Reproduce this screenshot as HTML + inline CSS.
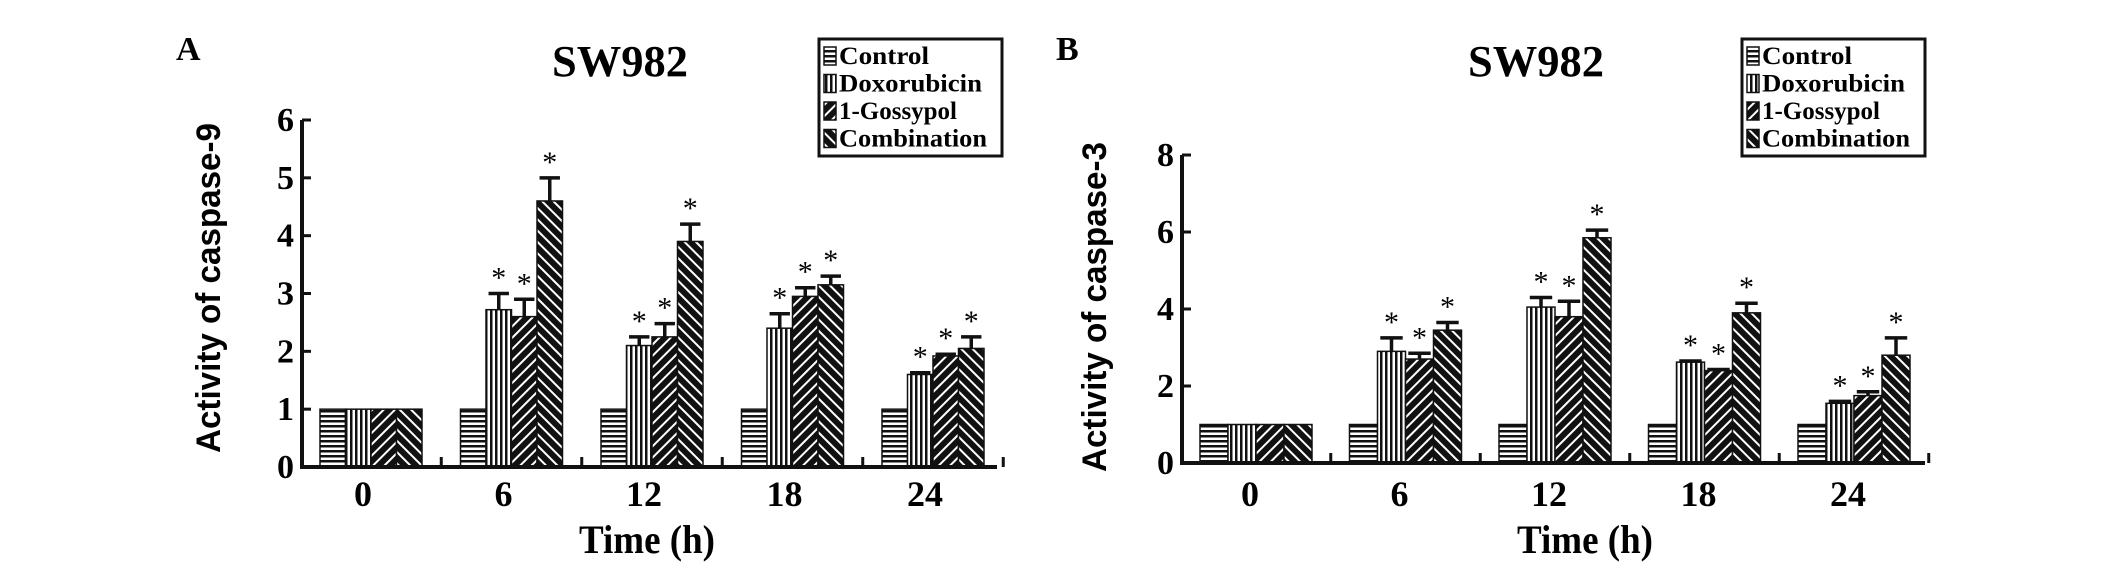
<!DOCTYPE html>
<html><head><meta charset="utf-8"><style>
html,body{margin:0;padding:0;background:#fff;}
svg{display:block;font-family:"Liberation Serif",serif;font-weight:bold;}
</style></head><body>
<svg id="fig" width="2126" height="576" viewBox="0 0 2126 576" xmlns="http://www.w3.org/2000/svg">
<defs>
<pattern id="pH" width="6" height="5" patternUnits="userSpaceOnUse"><rect width="6" height="5" fill="#fff"/><rect width="6" height="2.5" fill="#111"/></pattern>
<pattern id="pV" width="5" height="6" patternUnits="userSpaceOnUse"><rect width="5" height="6" fill="#fff"/><rect width="2.5" height="6" fill="#111"/></pattern>
<pattern id="pF" width="8" height="8" patternUnits="userSpaceOnUse" patternTransform="rotate(45)"><rect width="8" height="8" fill="#111"/><rect width="2" height="8" fill="#fff"/></pattern>
<pattern id="pB" width="8" height="8" patternUnits="userSpaceOnUse" patternTransform="rotate(-45)"><rect width="8" height="8" fill="#111"/><rect width="2" height="8" fill="#fff"/></pattern>
</defs>
<g id="panelA"></g>
<g id="panelB"></g>
</svg>
<script>
const categories = ["0","6","12","18","24"];
const seriesNames = ["Control","Doxorubicin","1-Gossypol","Combination"];
const aControl = [1,1,1,1,1];
const aDox = [1,2.72,2.1,2.4,1.6];
const aGoss = [1,2.6,2.25,2.95,1.92];
const aComb = [1,4.6,3.9,3.15,2.05];
const aDoxErr = [0,0.28,0.15,0.25,0.03];
const aGossErr = [0,0.3,0.23,0.15,0.03];
const aCombErr = [0,0.4,0.3,0.15,0.2];
const aTicks = [0,1,2,3,4,5,6];
const bControl = [1,1,1,1,1];
const bDox = [1,2.9,4.05,2.62,1.55];
const bGoss = [1,2.7,3.8,2.4,1.75];
const bComb = [1,3.45,5.85,3.9,2.8];
const bDoxErr = [0,0.35,0.25,0.03,0.05];
const bGossErr = [0,0.15,0.4,0.03,0.1];
const bCombErr = [0,0.2,0.2,0.25,0.45];
const bTicks = [0,2,4,6,8];

const NS="http://www.w3.org/2000/svg";
function mk(parent,tag,attrs,text){const e=document.createElementNS(NS,tag);for(const k in attrs)e.setAttribute(k,attrs[k]);if(text!==undefined)e.textContent=text;parent.appendChild(e);return e;}
const fills=["url(#pH)","url(#pV)","url(#pF)","url(#pB)"];
const legendLens=[90,143,118,148];

function panel(g,cfg){
  const yS=v=>cfg.y0-(v/cfg.ymax)*(cfg.y0-cfg.yTop);
  const xC=i=>cfg.x0c+i*cfg.step;
  let t=mk(g,"text",{x:cfg.letterX,y:60,"font-size":34},cfg.letter);
  
  
  t=mk(g,"text",{x:cfg.titleX,y:76,"font-size":44,"text-anchor":"middle",textLength:136,lengthAdjust:"spacingAndGlyphs"},"SW982");
  
  
  const series=[cfg.c,cfg.d,cfg.gs,cfg.cb];
  const errs=[null,cfg.de,cfg.ge,cfg.ce];
  categories.forEach((c,i)=>{
    const gx=xC(i)-2*cfg.bw;
    series.forEach((s,k)=>{
      const x=gx+k*cfg.bw, y=yS(s[i]);
      const r=mk(g,"rect",{x:x,y:y,width:cfg.bw,height:cfg.y0-y,fill:fills[k],stroke:"#111","stroke-width":1.5});
      
      
      if(errs[k]&&errs[k][i]>0){
        const top=yS(s[i]+errs[k][i]), cx=x+cfg.bw/2;
        const e=mk(g,"path",{d:`M${cx} ${y}V${top}M${cx-cfg.bw*0.4} ${top}H${cx+cfg.bw*0.4}`,stroke:"#111","stroke-width":3.5,fill:"none"});
        
        
      }
      if(k>0&&i>0){
        const top=yS(s[i]+(errs[k]?errs[k][i]:0));
        const a=mk(g,"text",{x:x+cfg.bw/2,y:top-6,"font-size":30,"font-weight":"normal","text-anchor":"middle"},"*");
        
        
      }
    });
    const l=mk(g,"text",{x:xC(i)+cfg.lblOff,y:506,"font-size":36,"text-anchor":"middle"},c);
    
    
  });
  const ax=mk(g,"path",{d:`M${cfg.xAxis} ${cfg.yTop}V${cfg.y0}H${cfg.xEnd}`,stroke:"#111","stroke-width":4,fill:"none"});
  
  
  for(let i=1;i<=categories.length;i++){
    const tx=xC(i)-cfg.step/2;
    const tk=mk(g,"line",{x1:tx,x2:tx,y1:cfg.y0,y2:cfg.y0-10,stroke:"#111","stroke-width":3});
    
    
  }
  cfg.ticks.forEach(v=>{
    const y=yS(v);
    const tk=mk(g,"line",{x1:cfg.xAxis,x2:cfg.xAxis+9,y1:y,y2:y,stroke:"#111","stroke-width":3});
    
    
    const tl=mk(g,"text",{x:cfg.xAxis-8,y:y+11,"font-size":34,"text-anchor":"end"},String(v));
    
    
  });
  const yl=mk(g,"text",{x:0,y:0,"font-size":34,"text-anchor":"middle","font-family":"Liberation Sans, sans-serif",textLength:330,lengthAdjust:"spacingAndGlyphs",transform:`translate(${cfg.ylX},${cfg.ylY}) rotate(-90)`},cfg.ylabel);
  
  
  const xl=mk(g,"text",{x:cfg.xlX,y:553,"font-size":40,"text-anchor":"middle",textLength:136,lengthAdjust:"spacingAndGlyphs"},"Time (h)");
  
  
  const lg=mk(g,"g",{});
  
  
  const lb=mk(lg,"rect",{x:cfg.lx,y:39,width:cfg.lw,height:117,fill:"#fff",stroke:"#111","stroke-width":3});
  
  
  seriesNames.forEach((n,k)=>{
    const y=46+k*27.5;
    const sw=mk(lg,"rect",{x:cfg.lx+5,y:y+1,width:12,height:18,fill:fills[k],stroke:"#111","stroke-width":1.5});
    
    
    const tx=mk(lg,"text",{x:cfg.lx+20,y:y+18,"font-size":25,textLength:legendLens[k],lengthAdjust:"spacingAndGlyphs"},n);
    
    
  });
}
panel(document.getElementById("panelA"),{letter:"A",letterX:176,titleX:620,c:aControl,d:aDox,gs:aGoss,cb:aComb,de:aDoxErr,ge:aGossErr,ce:aCombErr,
  ticks:aTicks,ymax:6,yTop:120,y0:467,xAxis:302,xEnd:997,x0c:371,step:140.5,bw:25.5,lblOff:-8,ylabel:"Activity of caspase-9",ylX:220,ylY:288,xlX:647,lx:819,lw:183});
panel(document.getElementById("panelB"),{letter:"B",letterX:1056,titleX:1536,c:bControl,d:bDox,gs:bGoss,cb:bComb,de:bDoxErr,ge:bGossErr,ce:bCombErr,
  ticks:bTicks,ymax:8,yTop:155,y0:463,xAxis:1182,xEnd:1925,x0c:1256,step:149.5,bw:28,lblOff:-6,ylabel:"Activity of caspase-3",ylX:1106,ylY:307,xlX:1585,lx:1742,lw:183});
</script>
</body></html>
